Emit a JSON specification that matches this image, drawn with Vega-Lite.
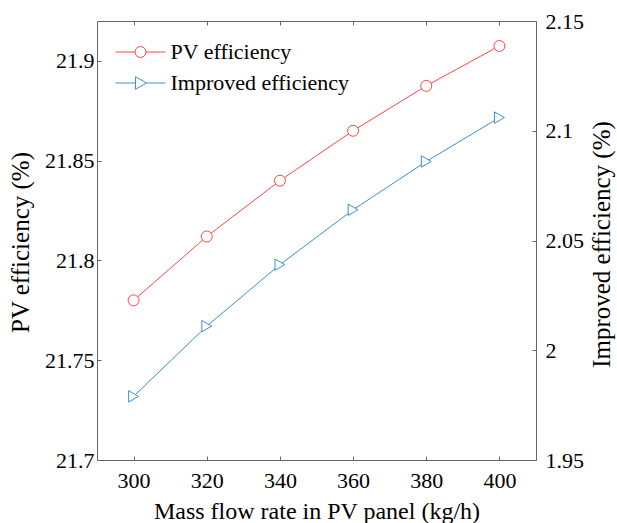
{
  "$schema": "https://vega.github.io/schema/vega-lite/v6.json",
  "width": 439,
  "height": 439,
  "autosize": {"type": "none"},
  "padding": {"left": 97, "top": 21, "right": 81, "bottom": 63},
  "background": "white",
  "config": {
    "view": {"stroke": null},
    "font": "Liberation Serif, Tinos, Times New Roman, Times, DejaVu Serif, serif",
    "axis": {
      "labelFont": "Liberation Serif, Tinos, Times New Roman, Times, DejaVu Serif, serif",
      "labelFontSize": 22,
      "labelColor": "black",
      "titleFont": "Liberation Serif, Tinos, Times New Roman, Times, DejaVu Serif, serif",
      "titleFontSize": 24,
      "titleFontWeight": "normal",
      "titleColor": "black",
      "domainColor": "#666",
      "tickColor": "#666",
      "tickSize": -4,
      "grid": false
    },
    "legend": {
      "labelFont": "Liberation Serif, Tinos, Times New Roman, Times, DejaVu Serif, serif",
      "labelFontSize": 22,
      "labelColor": "black",
      "labelLimit": 400
    }
  },
  "data": {
    "values": [
      {"rate": 300, "series": "PV efficiency", "value": 21.780},
      {"rate": 320, "series": "PV efficiency", "value": 21.812},
      {"rate": 340, "series": "PV efficiency", "value": 21.840},
      {"rate": 360, "series": "PV efficiency", "value": 21.865},
      {"rate": 380, "series": "PV efficiency", "value": 21.8875},
      {"rate": 400, "series": "PV efficiency", "value": 21.9075},
      {"rate": 300, "series": "Improved efficiency", "value": 1.979},
      {"rate": 320, "series": "Improved efficiency", "value": 2.011},
      {"rate": 340, "series": "Improved efficiency", "value": 2.039},
      {"rate": 360, "series": "Improved efficiency", "value": 2.064},
      {"rate": 380, "series": "Improved efficiency", "value": 2.086},
      {"rate": 400, "series": "Improved efficiency", "value": 2.106}
    ]
  },
  "layer": [
    {
      "transform": [{"filter": "datum.series === 'PV efficiency'"}],
      "encoding": {
        "x": {
          "field": "rate",
          "type": "quantitative",
          "scale": {"domain": [290, 410], "nice": false, "zero": false},
          "axis": {
            "orient": "bottom",
            "values": [300, 320, 340, 360, 380, 400],
            "labelPadding": 14,
            "title": "Mass flow rate in PV panel (kg/h)",
            "titleY": 58,
            "titleBaseline": "alphabetic"
          }
        },
        "y": {
          "field": "value",
          "type": "quantitative",
          "scale": {"domain": [21.7, 21.92], "nice": false, "zero": false},
          "axis": {
            "orient": "left",
            "values": [21.7, 21.75, 21.8, 21.85, 21.9],
            "format": "~g",
            "labelPadding": 7,
            "title": "PV efficiency (%)",
            "titleFontSize": 25,
            "titleX": -69,
            "titleY": 221,
            "titleAngle": -90,
            "titleBaseline": "alphabetic",
            "titleAlign": "center"
          }
        },
        "color": {
          "field": "series",
          "type": "nominal",
          "scale": {"domain": ["PV efficiency", "Improved efficiency"], "range": ["#ff4545", "#3a8fd0"]},
          "legend": null
        },
        "shape": {
          "field": "series",
          "type": "nominal",
          "scale": {"domain": ["PV efficiency", "Improved efficiency"], "range": ["circle", "triangle-right"]},
          "legend": null
        }
      },
      "layer": [
        {"mark": {"type": "line", "strokeWidth": 1}},
        {"mark": {"type": "point", "filled": false, "fill": "white", "size": 121, "strokeWidth": 1, "opacity": 1}}
      ]
    },
    {
      "transform": [{"filter": "datum.series === 'Improved efficiency'"}],
      "encoding": {
        "x": {
          "field": "rate",
          "type": "quantitative",
          "scale": {"domain": [290, 410], "nice": false, "zero": false},
          "axis": {
            "orient": "top",
            "values": [300, 320, 340, 360, 380, 400],
            "labels": false,
            "title": null
          }
        },
        "y": {
          "field": "value",
          "type": "quantitative",
          "scale": {"domain": [1.95, 2.15], "nice": false, "zero": false},
          "axis": {
            "orient": "right",
            "values": [1.95, 2, 2.05, 2.1, 2.15],
            "format": "~g",
            "labelPadding": 13,
            "title": "Improved efficiency (%)",
            "titleFontSize": 25,
            "titleX": 73,
            "titleY": 223,
            "titleAngle": -90,
            "titleBaseline": "alphabetic",
            "titleAlign": "center"
          }
        },
        "color": {
          "field": "series",
          "type": "nominal",
          "scale": {"domain": ["PV efficiency", "Improved efficiency"], "range": ["#ff4545", "#3a8fd0"]},
          "legend": null
        },
        "shape": {
          "field": "series",
          "type": "nominal",
          "scale": {"domain": ["PV efficiency", "Improved efficiency"], "range": ["circle", "triangle-right"]},
          "legend": null
        }
      },
      "layer": [
        {"mark": {"type": "line", "strokeWidth": 1}},
        {"mark": {"type": "point", "filled": false, "fill": "white", "size": 130, "strokeWidth": 1, "opacity": 1}}
      ]
    },
    {
      "transform": [{"filter": "false"}],
      "mark": {"type": "point", "filled": false, "strokeWidth": 1, "opacity": 1},
      "encoding": {
        "x": {
          "field": "rate",
          "type": "quantitative",
          "scale": {"domain": [290, 410], "nice": false, "zero": false},
          "axis": null
        },
        "y": {
          "field": "value",
          "type": "quantitative",
          "scale": {"domain": [0, 1]},
          "axis": null
        },
        "color": {
          "field": "series",
          "type": "nominal",
          "scale": {"domain": ["PV efficiency", "Improved efficiency"], "range": ["#ff4545", "#3a8fd0"]},
          "legend": {
            "title": null,
            "orient": "none",
            "legendX": 32.5,
            "legendY": 20,
            "padding": 0,
            "rowPadding": 9,
            "labelOffset": 19,
            "symbolSize": 144,
            "symbolStrokeWidth": 1,
            "symbolFillColor": "transparent"
          }
        },
        "shape": {
          "field": "series",
          "type": "nominal",
          "scale": {
            "domain": ["PV efficiency", "Improved efficiency"],
            "range": [
              "M-4.17,0H-0.917M0.917,0H4.17M0.917,0A0.917,0.917,0,1,1,-0.917,0A0.917,0.917,0,1,1,0.917,0",
              "M-4.17,0H-0.833M1,0H4.17M-0.833,-1.04L1,0L-0.833,1.04Z"
            ]
          },
          "legend": {
            "title": null,
            "orient": "none",
            "legendX": 32.5,
            "legendY": 20,
            "padding": 0,
            "rowPadding": 9,
            "labelOffset": 19,
            "symbolSize": 144,
            "symbolStrokeWidth": 1,
            "symbolFillColor": "transparent"
          }
        }
      }
    }
  ],
  "resolve": {
    "scale": {"y": "independent", "color": "independent", "shape": "independent"},
    "axis": {"x": "independent"}
  }
}
